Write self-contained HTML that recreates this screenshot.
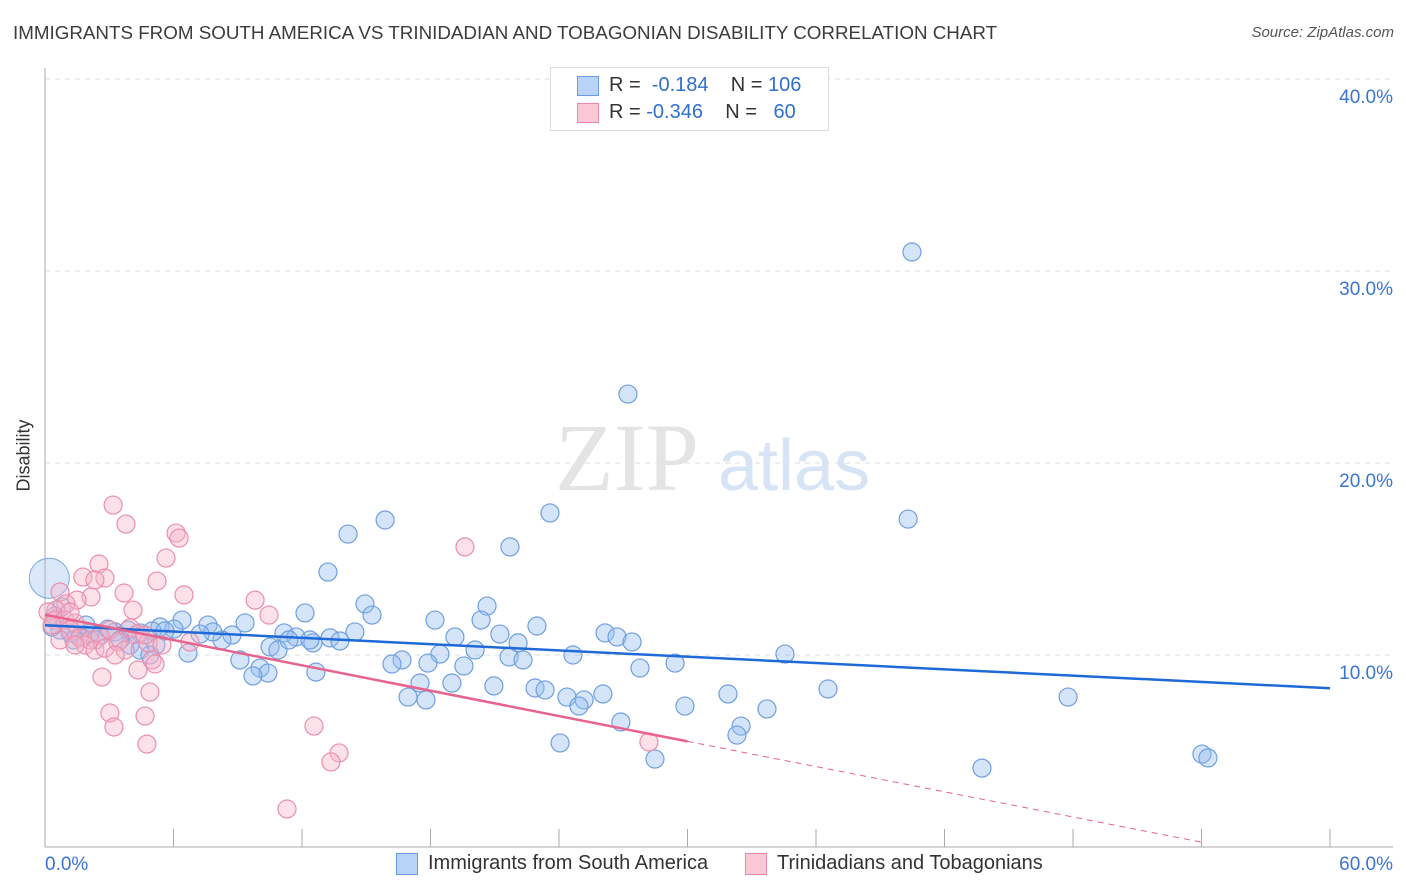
<!DOCTYPE html>
<html><head><meta charset="utf-8">
<style>
body{margin:0;background:#fff;font-family:"Liberation Sans",sans-serif;}
#wrap{position:relative;width:1406px;height:892px;overflow:hidden;}
.t{position:absolute;white-space:nowrap;}
</style></head>
<body>
<div id="wrap">
<div class="t" style="left:13px;top:22px;font-size:18.8px;color:#3c3c3c;">IMMIGRANTS FROM SOUTH AMERICA VS TRINIDADIAN AND TOBAGONIAN DISABILITY CORRELATION CHART</div>
<div class="t" style="right:12px;top:24px;font-size:15px;color:#555;font-style:italic;">Source: ZipAtlas.com</div>
<div class="t" style="left:-12px;top:445px;font-size:18px;color:#333;transform:rotate(-90deg);">Disability</div>
<svg id="plot" width="1406" height="892" style="position:absolute;left:0;top:0"></svg>
<div style="position:absolute;left:550px;top:67px;width:277px;height:62px;border:1px solid #ddd;background:#fff;font-size:20px;color:#333;">
 <div style="position:absolute;left:26px;top:8px;width:20px;height:18px;background:#b8d3f5;border:1px solid #6a9de0;"></div>
 <div class="t" style="left:58px;top:6px;">R = &nbsp;<span style="color:#2f6fd1">-0.184</span>&nbsp;&nbsp;&nbsp; N = <span style="color:#2f6fd1">106</span></div>
 <div style="position:absolute;left:26px;top:35px;width:20px;height:18px;background:#fbc8d6;border:1px solid #e88aa6;"></div>
 <div class="t" style="left:58px;top:33px;">R = <span style="color:#2f6fd1">-0.346</span>&nbsp;&nbsp;&nbsp; N = &nbsp;&nbsp;<span style="color:#2f6fd1">60</span></div>
</div>
<div style="position:absolute;left:396px;top:853px;">
 <div style="position:absolute;left:0;top:0;width:20px;height:20px;background:#b8d3f5;border:1px solid #6a9de0;"></div>
 <div class="t" style="left:32px;top:-1px;font-size:20px;color:#333;">Immigrants from South America</div>
</div>
<div style="position:absolute;left:745px;top:853px;">
 <div style="position:absolute;left:0;top:0;width:20px;height:20px;background:#fbc8d6;border:1px solid #e88aa6;"></div>
 <div class="t" style="left:32px;top:-1px;font-size:20px;color:#333;">Trinidadians and Tobagonians</div>
</div>
</div>
<script>
const yTicks=[10,20,30,40];
const xTicks=[0,5,10,15,20,25,30,35,40,45,50,55,60];
const bluePx=[[912,252],[628,394],[550,513],[385,520],[908,519],[348,534],[510,547],[328,572],[365,604],[487,606],[305,613],[372,615],[435,620],[537,626],[182,620],[160,627],[208,625],[481,620],[605,633],[617,637],[632,642],[455,637],[500,634],[518,643],[785,654],[573,655],[475,650],[440,654],[402,660],[392,664],[428,663],[509,657],[523,660],[464,666],[640,668],[675,663],[240,660],[260,668],[268,673],[253,676],[316,672],[420,683],[452,683],[494,686],[535,688],[545,690],[408,697],[426,700],[567,697],[584,700],[603,694],[579,706],[728,694],[828,689],[1068,697],[685,706],[767,709],[621,722],[741,726],[737,735],[560,743],[655,759],[982,768],[1202,754],[1208,758],[188,653],[245,623],[284,633],[296,637],[270,647],[278,650],[232,635],[222,640],[213,632],[200,634],[174,629],[152,631],[140,633],[128,630],[115,632],[108,629],[100,635],[90,633],[80,636],[70,633],[60,630],[52,627],[130,645],[140,650],[156,645],[120,640],[86,625],[74,640],[165,631],[150,655],[62,607],[55,616],[96,640],[330,638],[340,641],[355,632],[313,643],[289,640],[310,640]];
const pinkPx=[[113,505],[126,524],[176,533],[179,538],[166,558],[99,564],[83,577],[105,578],[95,580],[157,581],[124,593],[184,595],[91,597],[77,600],[133,610],[255,600],[269,615],[465,547],[60,592],[66,604],[56,610],[48,612],[55,620],[65,620],[75,623],[70,630],[80,638],[90,640],[100,636],[110,630],[85,645],[95,650],[105,648],[118,642],[130,628],[137,634],[148,643],[162,645],[190,642],[138,670],[152,660],[155,664],[102,677],[150,692],[110,713],[114,727],[145,716],[147,744],[314,726],[339,753],[331,762],[287,809],[649,742],[60,640],[75,645],[145,635],[125,650],[115,655],[52,625],[70,612]];
const blueX=bluePx.map(p=>+((p[0]-45)/21.417).toFixed(2)), blueY=bluePx.map(p=>+((847-p[1])/19.2).toFixed(2));
const pinkX=pinkPx.map(p=>+((p[0]-45)/21.417).toFixed(2)), pinkY=pinkPx.map(p=>+((847-p[1])/19.2).toFixed(2));
const blueLine=[[0,11.55],[60,8.27]];
const pinkLine=[[0,12.1],[30,5.5],[54,0.25]];
const X=v=>45+v*21.417, Y=v=>847-v*19.2;
const svg=document.getElementById('plot');const NS='http://www.w3.org/2000/svg';
function mk(t,a,p){const e=document.createElementNS(NS,t);for(const k in a)e.setAttribute(k,a[k]);(p||svg).appendChild(e);return e;}
yTicks.forEach(v=>{const l=mk('line',{x1:45,x2:1393,y1:Y(v),y2:Y(v),stroke:'#ddd','stroke-dasharray':'5,5'});


const t=mk('text',{x:1393,y:Y(v)+24,'text-anchor':'end','font-size':19,fill:'#3a74d6','font-family':'Liberation Sans'});t.textContent=v.toFixed(1)+'%';

});
mk('line',{x1:45,x2:45,y1:68,y2:847,stroke:'#aaa'});
mk('line',{x1:45,x2:1393,y1:847,y2:847,stroke:'#aaa'});
for(let i=0;i<=10;i++){const l=mk('line',{x1:45+i*128.5,x2:45+i*128.5,y1:829,y2:847,stroke:'#aaa'});

}
const x0=mk('text',{x:45,y:870,'font-size':19,fill:'#3a74d6','font-family':'Liberation Sans'});x0.textContent='0.0%';


const x1=mk('text',{x:1393,y:870,'text-anchor':'end','font-size':19,fill:'#3a74d6','font-family':'Liberation Sans'});x1.textContent='60.0%';


const w=mk('text',{x:555,y:490,'font-size':96,fill:'#e4e4e4','font-family':'Liberation Serif'});w.textContent='ZIP';


const w2=mk('text',{x:718,y:490,'font-size':72,fill:'#d6e4f5','font-family':'Liberation Sans'});w2.textContent='atlas';


const big=mk('circle',{cx:X(0.2),cy:Y(14.0),r:20,fill:'rgba(150,190,240,0.35)',stroke:'#7aa7e6'});


blueX.forEach((v,i)=>{const c=mk('circle',{cx:X(v),cy:Y(blueY[i]),r:9,fill:'rgba(150,190,240,0.4)',stroke:'#6f9fe0','stroke-width':1.2});

});
pinkX.forEach((v,i)=>{const c=mk('circle',{cx:X(v),cy:Y(pinkY[i]),r:9,fill:'rgba(248,180,200,0.4)',stroke:'#eb8eab','stroke-width':1.2});

});
const bl=mk('line',{x1:X(blueLine[0][0]),y1:Y(blueLine[0][1]),x2:X(blueLine[1][0]),y2:Y(blueLine[1][1]),stroke:'#1f6ad8','stroke-width':2.5});


const pl=mk('line',{x1:X(pinkLine[0][0]),y1:Y(pinkLine[0][1]),x2:X(pinkLine[1][0]),y2:Y(pinkLine[1][1]),stroke:'#e8638e','stroke-width':2.5});


const pd=mk('line',{x1:X(pinkLine[1][0]),y1:Y(pinkLine[1][1]),x2:X(pinkLine[2][0]),y2:Y(pinkLine[2][1]),stroke:'#e8638e','stroke-width':1,'stroke-dasharray':'6,5'});


</script>
</body></html>
